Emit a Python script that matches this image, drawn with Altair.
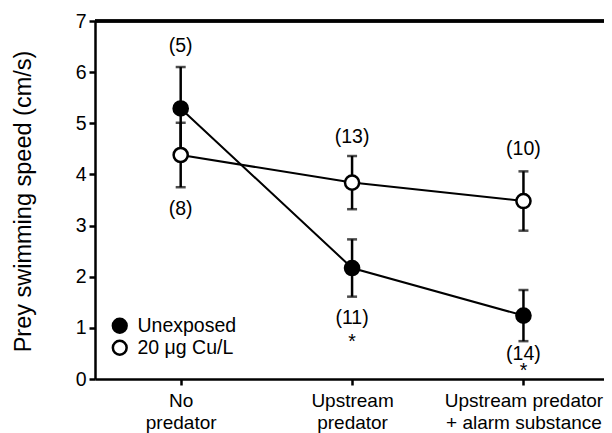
import altair as alt
import pandas as pd

# ---- data ----
categories = ["No predator", "Upstream predator", "Upstream predator + alarm substance"]
cat_lines = [["No", "predator"], ["Upstream", "predator"], ["Upstream predator", "+ alarm substance"]]
series = ["Unexposed", "20 \u03bcg Cu/L"]

unexposed_mean = [5.29, 2.17, 1.24]
unexposed_err = [0.81, 0.56, 0.50]
copper_mean = [4.38, 3.84, 3.48]
copper_err = [0.63, 0.52, 0.58]

# sample-size annotations (text, category index, value position)
ann_text = ["(5)", "(8)", "(13)", "(10)", "(11)", "*", "(14)", "*"]
ann_cat = [0, 0, 1, 2, 1, 1, 2, 2]
ann_y = [6.52, 3.33, 4.74, 4.50, 1.20, 0.73, 0.49, 0.15]

FONT = "Liberation Sans"
FS = 19.5
W, H = 509, 358

rows = []
for i, c in enumerate(categories):
    rows.append(dict(x=i, cat=c, series=series[0], mean=unexposed_mean[i],
                     lo=unexposed_mean[i] - unexposed_err[i], hi=unexposed_mean[i] + unexposed_err[i]))
    rows.append(dict(x=i, cat=c, series=series[1], mean=copper_mean[i],
                     lo=copper_mean[i] - copper_err[i], hi=copper_mean[i] + copper_err[i]))
df = pd.DataFrame(rows)
ann = pd.DataFrame(dict(x=ann_cat, y=ann_y, text=ann_text))

label_expr = " : ".join(
    f"datum.value == {i} ? {lines!r}" for i, lines in enumerate(cat_lines)
) + " : ''"

xscale = alt.Scale(domain=[-0.5, 2.47], nice=False, zero=False)
yscale = alt.Scale(domain=[0, 7], nice=False)

X = alt.X("x:Q", scale=xscale, title=None,
          axis=alt.Axis(values=[0, 1, 2], labelExpr=label_expr, grid=False,
                        labelFontSize=19, labelFont=FONT, labelColor="black",
                        labelLineHeight=22, labelPadding=6, labelBaseline="top",
                        tickSize=6, tickWidth=2.5, tickColor="black",
                        domainWidth=2.5, domainColor="black", labelFlush=False))
Y = alt.Y("mean:Q", scale=yscale, title="Prey swimming speed (cm/s)",
          axis=alt.Axis(values=list(range(8)), grid=False, labelFontSize=FS,
                        labelFont=FONT, labelColor="black", labelPadding=3,
                        tickSize=6, tickWidth=2.5, tickColor="black",
                        domainWidth=2.5, domainColor="black",
                        titleFont=FONT, titleFontSize=23.5, titleFontWeight="normal",
                        titleColor="black", titleX=-72, titleY=180,
                        titleAngle=270, titleAlign="center", titleBaseline="middle"))

base = alt.Chart(df)

bars = base.mark_rule(color="black", strokeWidth=2.5).encode(
    x=X, y=alt.Y("lo:Q", scale=yscale), y2="hi:Q")
cap_lo = base.mark_tick(color="black", orient="horizontal", size=10, thickness=2.5).encode(
    x=X, y=alt.Y("lo:Q", scale=yscale))
cap_hi = base.mark_tick(color="black", orient="horizontal", size=10, thickness=2.5).encode(
    x=X, y=alt.Y("hi:Q", scale=yscale))

lines = base.mark_line(color="black", strokeWidth=2).encode(
    x=X, y=Y, detail="series:N")

points = base.mark_point(filled=False, size=200, strokeWidth=2.5, opacity=1, stroke="black").encode(
    x=X, y=Y,
    fill=alt.Fill("series:N", scale=alt.Scale(domain=series, range=["black", "white"]),
                  legend=alt.Legend(title=None, orient="none", legendX=15, legendY=295,
                                    labelFont=FONT, labelFontSize=FS, labelColor="black",
                                    symbolType="circle", symbolSize=190,
                                    symbolStrokeColor="black", symbolStrokeWidth=2.5,
                                    symbolOpacity=1, rowPadding=-10, labelOffset=8)),
    order=alt.Order("series:N", sort="ascending"))

texts = alt.Chart(ann).mark_text(font=FONT, fontSize=FS, color="black", baseline="middle").encode(
    x=alt.X("x:Q", scale=xscale), y=alt.Y("y:Q", scale=yscale), text="text:N")

top = alt.Chart(ann).mark_rule(color="black", strokeWidth=2.5).encode(
    x=alt.value(0), x2=alt.value(W), y=alt.value(0))

chart = alt.layer(top, bars, cap_lo, cap_hi, lines, points, texts).properties(
    width=W, height=H,
    autosize=alt.AutoSizeParams(type="none"),
    padding={"left": 87, "top": 13, "right": 0, "bottom": 54},
).configure_view(stroke=None).configure(background="white")

chart.save("out.html", embed_options={"renderer": "svg", "actions": False})
